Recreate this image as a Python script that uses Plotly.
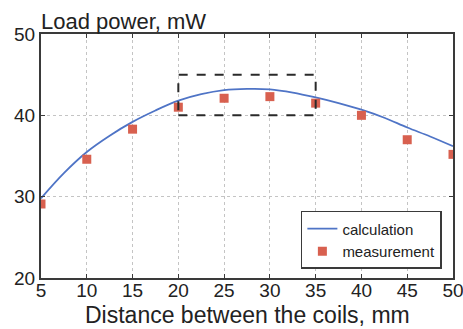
import plotly.graph_objects as go

# Data
calc_x = [5, 7.5, 10, 12.5, 15, 17.5, 20, 22.5, 25, 27.5, 30, 32.5, 35, 37.5, 40, 42.5, 45, 47.5, 50]
calc_y = [29.8, 32.9, 35.5, 37.5, 39.2, 40.6, 41.8, 42.6, 43.1, 43.25, 43.2, 42.8, 42.2, 41.5, 40.7, 39.7, 38.5, 37.4, 36.2]
meas_x = [5, 10, 15, 20, 25, 30, 35, 40, 45, 50]
meas_y = [29.1, 34.6, 38.3, 41.0, 42.1, 42.3, 41.5, 40.0, 37.0, 35.2]
x_ticks = [5, 10, 15, 20, 25, 30, 35, 40, 45, 50]
y_ticks = [20, 30, 40, 50]
box_x = [20, 35]
box_y = [40, 45]

FONT = "Liberation Sans, Arial, sans-serif"

fig = go.Figure()
fig.add_trace(go.Scatter(x=calc_x, y=calc_y, mode="lines", name="calculation",
                         line=dict(color="#4f74c6", width=1.8, shape="spline")))
fig.add_trace(go.Scatter(x=meas_x, y=meas_y, mode="markers", name="measurement",
                         marker=dict(symbol="square", size=9, color="#d8604f")))

fig.add_shape(type="rect", xref="x", yref="y", x0=box_x[0], x1=box_x[1], y0=box_y[0], y1=box_y[1],
              line=dict(color="#2a2a2a", width=2, dash="dash"))

axis_common = dict(showline=True, linecolor="#3a3a3a", linewidth=2, mirror="ticks",
                   ticks="inside", ticklen=4, tickcolor="#3a3a3a", tickwidth=1,
                   showgrid=True, gridcolor="#c4c4c4", griddash="dot", gridwidth=1,
                   zeroline=False, automargin=False, ticklabeloverflow="allow",
                   tickfont=dict(family=FONT, size=19, color="#222"))

fig.update_xaxes(range=[5, 50], tickvals=x_ticks, ticklabelstandoff=-6, **axis_common)
fig.update_yaxes(range=[20, 50], tickvals=y_ticks, **axis_common)

fig.add_annotation(text="Load power, mW", xref="paper", yref="paper", x=0, y=1,
                   xanchor="left", yanchor="bottom", showarrow=False, xshift=-2, yshift=-2,
                   font=dict(family=FONT, size=22, color="#222"))

fig.add_annotation(text="Distance between the coils, mm", xref="paper", yref="paper",
                   x=0.5, y=-51 / 244, xanchor="center", yanchor="bottom", showarrow=False,
                   yshift=-1, font=dict(family=FONT, size=23, color="#222"))

fig.update_layout(
    width=463, height=329,
    margin=dict(l=41, r=10, t=34, b=51),
    paper_bgcolor="white", plot_bgcolor="white",
    showlegend=True,
    legend=dict(x=0.973, y=0.156, xanchor="right", yanchor="middle",
                bordercolor="#3a3a3a", borderwidth=1.5, bgcolor="white",
                font=dict(family=FONT, size=15, color="#222"),
                tracegroupgap=0, itemwidth=30),
)

fig.write_html("out.html")
